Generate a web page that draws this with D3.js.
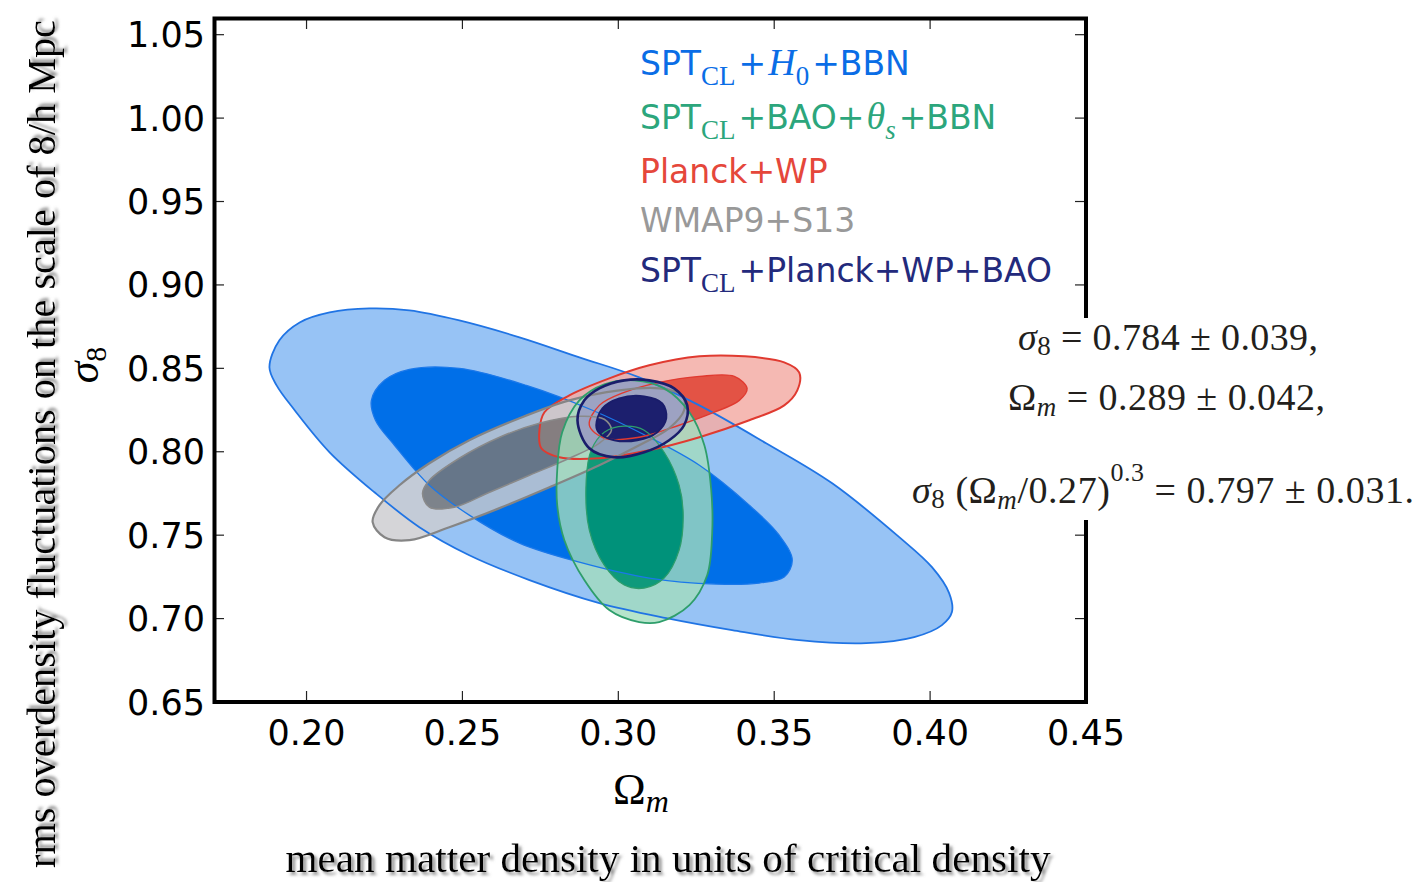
<!DOCTYPE html>
<html>
<head>
<meta charset="utf-8">
<script src="https://d3js.org/d3.v7.min.js"></script>
<style>
  body { margin: 0; background: #fff; }
  svg { display: block; }
</style>
</head>
<body>
<div id="chart"></div>
<script>
// axis ticks
var omegaTicks = [0.20, 0.25, 0.30, 0.35, 0.40, 0.45];
var sigmaTicks = [0.65, 0.70, 0.75, 0.80, 0.85, 0.90, 0.95, 1.00, 1.05];

// contours, [Omega_m, sigma_8]
var blueOuter = [[0.1881,0.8506],[0.1913,0.8668],[0.1978,0.8775],[0.2074,0.8835],[0.2202,0.8859],[0.2330,0.8847],
  [0.2490,0.8787],[0.2683,0.8686],[0.2875,0.8566],[0.3067,0.8446],[0.3260,0.8278],[0.3474,0.8051],[0.3686,0.7811],
  [0.3901,0.7488],[0.4006,0.7308],[0.4061,0.7153],[0.4070,0.7039],[0.4038,0.6961],[0.3949,0.6889],[0.3795,0.6853],
  [0.3580,0.6871],[0.3365,0.6931],[0.3154,0.7003],[0.2939,0.7093],[0.2715,0.7231],[0.2522,0.7380],[0.2362,0.7548],
  [0.2218,0.7757],[0.2074,0.7997],[0.1962,0.8249],[0.1904,0.8398]];
var blueInner = [[0.2208,0.8308],[0.2250,0.8428],[0.2330,0.8494],[0.2490,0.8500],[0.2705,0.8398],[0.2917,0.8249],
  [0.3099,0.8087],[0.3260,0.7919],[0.3420,0.7680],[0.3516,0.7500],[0.3558,0.7350],[0.3532,0.7249],[0.3452,0.7213],
  [0.3314,0.7207],[0.3099,0.7243],[0.2875,0.7338],[0.2683,0.7452],[0.2522,0.7620],[0.2394,0.7799],[0.2282,0.8039],
  [0.2221,0.8189]];
var grayOuter = [[0.2212,0.7578],[0.2234,0.7680],[0.2298,0.7799],[0.2394,0.7931],[0.2522,0.8069],[0.2683,0.8201],
  [0.2843,0.8308],[0.3003,0.8368],[0.3131,0.8380],[0.3205,0.8338],[0.3211,0.8249],[0.3163,0.8141],[0.3067,0.8039],
  [0.2939,0.7919],[0.2779,0.7787],[0.2619,0.7662],[0.2458,0.7548],[0.2330,0.7470],[0.2250,0.7488]];
var grayInner = [[0.2372,0.7751],[0.2394,0.7829],[0.2490,0.7961],[0.2619,0.8087],[0.2747,0.8171],[0.2875,0.8213],
  [0.2955,0.8195],[0.2978,0.8129],[0.2939,0.8051],[0.2843,0.7961],[0.2715,0.7859],[0.2587,0.7757],[0.2474,0.7668],
  [0.2394,0.7668]];
var redOuter = [[0.2747,0.8129],[0.2763,0.8237],[0.2843,0.8338],[0.2971,0.8440],[0.3099,0.8518],[0.3260,0.8572],
  [0.3404,0.8572],[0.3532,0.8536],[0.3580,0.8476],[0.3574,0.8368],[0.3532,0.8278],[0.3420,0.8189],[0.3260,0.8087],
  [0.3099,0.8009],[0.2939,0.7961],[0.2811,0.7967],[0.2753,0.8021]];
var redInner = [[0.2907,0.8159],[0.2939,0.8278],[0.3019,0.8356],[0.3131,0.8416],[0.3260,0.8452],[0.3372,0.8452],
  [0.3413,0.8380],[0.3388,0.8308],[0.3308,0.8237],[0.3195,0.8159],[0.3067,0.8087],[0.2955,0.8081]];
var greenOuter = [[0.2804,0.7889],[0.2820,0.8117],[0.2875,0.8308],[0.2955,0.8404],[0.3051,0.8428],[0.3147,0.8380],
  [0.3228,0.8237],[0.3276,0.8039],[0.3298,0.7769],[0.3301,0.7512],[0.3285,0.7260],[0.3228,0.7081],[0.3131,0.6979],
  [0.3067,0.6979],[0.2971,0.7051],[0.2891,0.7231],[0.2827,0.7470],[0.2804,0.7680]];
var greenInner = [[0.2897,0.7829],[0.2913,0.8009],[0.2955,0.8117],[0.3019,0.8153],[0.3083,0.8129],[0.3147,0.7997],
  [0.3195,0.7799],[0.3208,0.7620],[0.3195,0.7410],[0.3147,0.7243],[0.3083,0.7183],[0.3019,0.7201],[0.2955,0.7320],
  [0.2907,0.7530]];
var navyOuter = [[0.2869,0.8189],[0.2891,0.8308],[0.2939,0.8380],[0.3019,0.8428],[0.3099,0.8428],[0.3179,0.8380],
  [0.3221,0.8278],[0.3211,0.8159],[0.3163,0.8069],[0.3083,0.7997],[0.2987,0.7967],[0.2907,0.8021]];
var navyInner = [[0.2929,0.8159],[0.2949,0.8260],[0.3003,0.8320],[0.3083,0.8332],[0.3141,0.8290],[0.3154,0.8201],
  [0.3125,0.8117],[0.3061,0.8069],[0.2987,0.8069],[0.2939,0.8111]];

var W = 1418, H = 882;
var svg = d3.select("#chart").append("svg").attr("width", W).attr("height", H);

var defs = svg.append("defs");
var shadow = defs.append("filter").attr("id", "shadow").attr("x", "-5%").attr("y", "-20%")
  .attr("width", "110%").attr("height", "140%");
shadow.append("feDropShadow").attr("dx", 3).attr("dy", 3).attr("stdDeviation", 1.5)
  .attr("flood-color", "#888").attr("flood-opacity", 0.9);

var x = d3.scaleLinear().domain([0.17, 0.45]).range([213, 1086]);
var y = d3.scaleLinear().domain([0.65, 1.06]).range([702, 18]);

var line = d3.line().x(function(d) { return x(d[0]); }).y(function(d) { return y(d[1]); })
  .curve(d3.curveCatmullRomClosed.alpha(0.5));

var sets = [
  {outer: blueOuter, inner: blueInner, outerFill: "#97c3f5", outerOp: 1, innerFill: "#006fe8", innerOp: 1,
   stroke: "#2074e4", innerStroke: "#1a78ea", sw: 1.8},
  {outer: redOuter, inner: redInner, outerFill: "#f3ada6", outerOp: 0.85, innerFill: "#e24a3b", innerOp: 0.95,
   stroke: "#e03a30", innerStroke: "#e03a30", sw: 2},
  {outer: grayOuter, inner: grayInner, outerFill: "#cdcdd0", outerOp: 0.83, innerFill: "#787878", innerOp: 0.85,
   stroke: "#858585", innerStroke: "#8a8a8a", sw: 2.2},
  {outer: greenOuter, inner: greenInner, outerFill: "#a2ddbd", outerOp: 0.79, innerFill: "#00966e", innerOp: 0.9,
   stroke: "#2e9e6b", innerStroke: "#2e9e6b", sw: 1.8},
  {outer: navyOuter, inner: navyInner, outerFill: "#9b9bc3", outerOp: 0.88, innerFill: "#1c1f6e", innerOp: 1,
   stroke: "#1a1d6b", innerStroke: "#1a1d6b", sw: 2.6}
];

var plot = svg.append("g");
// fills first (outer band is a ring around the inner region)
sets.forEach(function(s) {
  plot.append("path").attr("d", line(s.outer) + line(s.inner))
    .attr("fill-rule", "evenodd").attr("fill", s.outerFill).attr("fill-opacity", s.outerOp);
  plot.append("path").attr("d", line(s.inner))
    .attr("fill", s.innerFill).attr("fill-opacity", s.innerOp);
});
// then the contour lines
sets.forEach(function(s) {
  plot.append("path").attr("d", line(s.outer)).attr("fill", "none")
    .attr("stroke", s.stroke).attr("stroke-width", s.sw);
  plot.append("path").attr("d", line(s.inner)).attr("fill", "none")
    .attr("stroke", s.innerStroke).attr("stroke-width", s.sw * 0.7);
});

// ticks, inward on all four sides
var tk = svg.append("g").attr("stroke", "#222").attr("stroke-width", 1.2);
omegaTicks.forEach(function(v) {
  tk.append("line").attr("x1", x(v)).attr("x2", x(v)).attr("y1", 702).attr("y2", 691);
  tk.append("line").attr("x1", x(v)).attr("x2", x(v)).attr("y1", 18).attr("y2", 29);
});
sigmaTicks.forEach(function(v) {
  tk.append("line").attr("x1", 213).attr("x2", 224).attr("y1", y(v)).attr("y2", y(v));
  tk.append("line").attr("x1", 1086).attr("x2", 1075).attr("y1", y(v)).attr("y2", y(v));
});

svg.append("rect").attr("x", 214.5).attr("y", 18.5).attr("width", 1086 - 214.5).attr("height", 702 - 18.5)
  .attr("fill", "none").attr("stroke", "#000").attr("stroke-width", 4);

var tickFont = "'DejaVu Sans', sans-serif";
svg.append("g").selectAll("text").data(omegaTicks).join("text")
  .attr("x", function(d) { return x(d); }).attr("y", 745)
  .attr("text-anchor", "middle").attr("font-family", tickFont).attr("font-size", 35)
  .text(function(d) { return d.toFixed(2); });
svg.append("g").selectAll("text").data(sigmaTicks).join("text")
  .attr("x", 205).attr("y", function(d) { return y(d) + 12.5; })
  .attr("text-anchor", "end").attr("font-family", tickFont).attr("font-size", 35)
  .text(function(d) { return d.toFixed(2); });

// axis symbols
var serif = "'Liberation Serif', 'DejaVu Serif', serif";
var om = svg.append("text").attr("x", 641).attr("y", 804).attr("text-anchor", "middle")
  .attr("font-family", serif).attr("font-size", 44);
om.append("tspan").text("Ω");
om.append("tspan").attr("font-style", "italic").attr("font-size", 32).attr("dy", 8).text("m");

var sg = svg.append("text").attr("transform", "translate(98,365) rotate(-90)").attr("text-anchor", "middle")
  .attr("font-family", serif).attr("font-size", 44);
sg.append("tspan").attr("font-style", "italic").text("σ");
sg.append("tspan").attr("font-size", 30).attr("dy", 8).text("8");

// legend
var legend = [
  {color: "#0a6de6", parts: [["SPT"], ["CL", "sub"], ["+"], ["H", "it"], ["0", "sub"], ["+BBN"]]},
  {color: "#2ca67c", parts: [["SPT"], ["CL", "sub"], ["+BAO+"], ["θ", "it"], ["s", "subit"], ["+BBN"]]},
  {color: "#e5473b", parts: [["Planck+WP"]]},
  {color: "#999999", parts: [["WMAP9+S13"]]},
  {color: "#232a7c", parts: [["SPT"], ["CL", "sub"], ["+Planck+WP+BAO"]]}
];
var legendY = [75, 129, 183, 232, 282];
legend.forEach(function(row, i) {
  var t = svg.append("text").attr("x", 640).attr("y", legendY[i]).attr("fill", row.color)
    .attr("font-family", tickFont).attr("font-size", 33);
  var shift = 0, prevSub = false;
  row.parts.forEach(function(p) {
    var sp = t.append("tspan").text(p[0]);
    var kind = p[1];
    var isSub = (kind == "sub" || kind == "subit");
    sp.attr("dy", (isSub ? 10 : 0) - shift);
    shift = isSub ? 10 : 0;
    if (prevSub) sp.attr("dx", 3);
    if (kind == "it") sp.attr("dx", 2);
    prevSub = isSub;
    if (kind == "sub") sp.attr("font-family", serif).attr("font-size", 27);
    if (kind == "subit") sp.attr("font-family", serif).attr("font-size", 27).attr("font-style", "italic");
    if (kind == "it") sp.attr("font-family", serif).attr("font-size", 38).attr("font-style", "italic");
  });
});

// annotation, laid over the right edge of the frame
svg.append("rect").attr("x", 990).attr("y", 318).attr("width", 428).attr("height", 202).attr("fill", "#fff");
var ann = svg.append("g").attr("font-family", serif).attr("font-size", 38).attr("fill", "#231f1c");
var a1 = ann.append("text").attr("x", 1018).attr("y", 350)
  .attr("textLength", 300).attr("lengthAdjust", "spacing");
a1.append("tspan").attr("font-style", "italic").text("σ");
a1.append("tspan").attr("font-size", 27).attr("dy", 5).text("8");
a1.append("tspan").attr("dy", -5).text(" = 0.784 ± 0.039,");
var a2 = ann.append("text").attr("x", 1008).attr("y", 410)
  .attr("textLength", 317).attr("lengthAdjust", "spacing");
a2.append("tspan").text("Ω");
a2.append("tspan").attr("font-style", "italic").attr("font-size", 27).attr("dy", 6).text("m");
a2.append("tspan").attr("dy", -6).text(" = 0.289 ± 0.042,");
var a3 = ann.append("text").attr("x", 912).attr("y", 503)
  .attr("textLength", 502).attr("lengthAdjust", "spacing");
a3.append("tspan").attr("font-style", "italic").text("σ");
a3.append("tspan").attr("font-size", 27).attr("dy", 5).text("8");
a3.append("tspan").attr("dy", -5).text(" (Ω");
a3.append("tspan").attr("font-style", "italic").attr("font-size", 27).attr("dy", 6).text("m");
a3.append("tspan").attr("dy", -6).text("/0.27)");
a3.append("tspan").attr("font-size", 26).attr("dy", -22).text("0.3");
a3.append("tspan").attr("dy", 22).text(" = 0.797 ± 0.031.");

// outer descriptive labels
svg.append("text").attr("transform", "translate(55,444) rotate(-90)").attr("text-anchor", "middle")
  .attr("font-family", serif).attr("font-size", 40).attr("filter", "url(#shadow)")
  .attr("textLength", 848).attr("lengthAdjust", "spacingAndGlyphs")
  .text("rms overdensity fluctuations on the scale of 8/h Mpc");
svg.append("text").attr("x", 668).attr("y", 872).attr("text-anchor", "middle")
  .attr("font-family", serif).attr("font-size", 40).attr("filter", "url(#shadow)")
  .attr("textLength", 765).attr("lengthAdjust", "spacingAndGlyphs")
  .text("mean matter density in units of critical density");
</script>
</body>
</html>
